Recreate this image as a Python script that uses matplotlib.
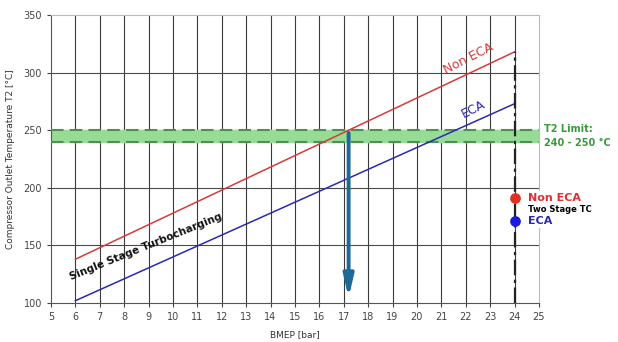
import matplotlib.pyplot as plt

# data
bmep = [6, 24]
t2_non_eca = [138, 318]
t2_eca = [102, 273]

limit_low = 240
limit_high = 250

arrow_x = 17.2
two_stage_x = 24
two_stage_non_eca = 191
two_stage_eca = 171

xticks = list(range(5, 26))
yticks = [100, 150, 200, 250, 300, 350]

fig = plt.figure(figsize=(6.18, 3.42), dpi=100)
ax = fig.add_axes([0.0825, 0.114, 0.7895, 0.842])

ax.set_xlim(5, 25)
ax.set_ylim(100, 350)
ax.set_xticks(xticks)
ax.set_yticks(yticks)
ax.tick_params(labelsize=7, colors='#444444', length=3, width=0.8)

# grid
for xv in xticks[1:-1]:
    ax.axvline(xv, color='#3a3a3a', lw=0.8, zorder=1)
for yv in yticks[1:-1]:
    ax.axhline(yv, color='#4a4a4a', lw=0.8, zorder=1)

for s in ['top', 'right']:
    ax.spines[s].set_color('#bbbbbb')
for s in ['left', 'bottom']:
    ax.spines[s].set_color('#555555')

# T2 limit band
ax.axhspan(limit_low, limit_high, color='#96dc96', zorder=2)
ax.axhline(limit_low, color='#4f8f4f', lw=1.5, ls=(0, (6, 3)), zorder=3)
ax.axhline(limit_high, color='#4f8f4f', lw=1.5, ls=(0, (6, 3)), zorder=3)

# single stage lines
ax.plot(bmep, t2_non_eca, color='#d83a3a', lw=1.1, zorder=4)
ax.plot(bmep, t2_eca, color='#2a2ab0', lw=1.1, zorder=4)

# two stage marker line
ax.plot([two_stage_x, two_stage_x], [100, t2_non_eca[1]], color='#222222',
        lw=1.6, ls=(0, (7, 2, 1.5, 2)), zorder=5)

# arrow down from the limit crossing
ax.annotate('', xy=(arrow_x, 102), xytext=(arrow_x, limit_high),
            arrowprops=dict(arrowstyle='-|>,head_width=0.3,head_length=1.3',
                            color='#1d6a99', lw=2.8), zorder=6)

# two stage points
ax.scatter([two_stage_x], [two_stage_non_eca], s=45, color='#e03020', zorder=7)
ax.scatter([two_stage_x], [two_stage_eca], s=45, color='#1a1ae0', zorder=7)

ax.text(24.55, two_stage_non_eca, 'Non ECA', color='#e03030', fontsize=8,
        fontweight='bold', va='center', zorder=6,
        bbox=dict(facecolor='white', edgecolor='none', pad=1.5), clip_on=False)
ax.text(24.55, 181, 'Two Stage TC', color='black', fontsize=6,
        fontweight='bold', va='center', zorder=6,
        bbox=dict(facecolor='white', edgecolor='none', pad=1.5), clip_on=False)
ax.text(24.55, two_stage_eca, 'ECA', color='#2a2ab0', fontsize=8,
        fontweight='bold', va='center', zorder=6,
        bbox=dict(facecolor='white', edgecolor='none', pad=1.5), clip_on=False)

ax.text(25.2, 245, 'T2 Limit:\n240 - 250 °C', color='#3a9a3a', fontsize=7,
        fontweight='bold', va='center', linespacing=1.4, clip_on=False)

# line labels
ax.text(22.1, 312, 'Non ECA', color='#d83a3a', fontsize=9, rotation=27,
        ha='center', va='center', zorder=5)
ax.text(22.3, 268, 'ECA', color='#2a2ab0', fontsize=9, rotation=27,
        ha='center', va='center', zorder=5)
ax.text(8.9, 149, 'Single Stage Turbocharging', color='#111111', fontsize=7.5,
        fontweight='bold', rotation=22, ha='center', va='center', zorder=5)

ax.set_xlabel('BMEP [bar]', fontsize=6.5, color='#333333', labelpad=6)
ax.set_ylabel('Compressor Outlet Temperature T2 [°C]', fontsize=6.5,
              color='#333333', labelpad=6)

fig.savefig('out.png', dpi=100)
